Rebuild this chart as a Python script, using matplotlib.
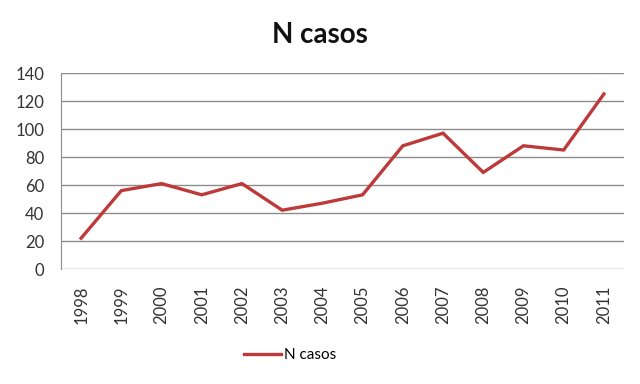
import matplotlib
matplotlib.use('Agg')
import matplotlib.pyplot as plt

years = ['1998', '1999', '2000', '2001', '2002', '2003', '2004',
         '2005', '2006', '2007', '2008', '2009', '2010', '2011']
casos = [22, 56, 61, 53, 61, 42, 47, 53, 88, 97, 69, 88, 85, 125]

plt.rcParams['font.family'] = ['Lato', 'DejaVu Sans']
RED = '#BE3A3A'
GRID = '#8C8C8C'

fig = plt.figure(figsize=(6.4, 3.84), dpi=100)
ax = fig.add_axes([61 / 640, 1 - 269 / 384, (624 - 61) / 640, (269 - 73) / 384])

x = list(range(len(years)))
ax.plot(x, casos, color=RED, lw=2.4, label='N casos', solid_joinstyle='miter')
ax.set_xlim(-0.5, len(years) - 0.5)
ax.set_ylim(0, 140)
ax.set_yticks(range(0, 141, 20))
ax.set_xticks(x)
ax.set_xticklabels(years, rotation=90, fontsize=12, color='#333333')
ax.tick_params(axis='y', labelsize=12, labelcolor='#333333', length=0, pad=12)
ax.tick_params(axis='x', length=0, pad=12)
ax.grid(axis='y', color=GRID, lw=1)
ax.set_axisbelow(True)
for s in ('top', 'right', 'bottom'):
    ax.spines[s].set_visible(False)
ax.spines['left'].set_color(GRID)

fig.text(0.5, 1 - 35 / 384, 'N casos', ha='center', va='center',
         fontsize=20, fontweight='bold', color='#111111')
fig.legend(loc='center', bbox_to_anchor=(290 / 640, 1 - 355 / 384), frameon=False,
           fontsize=11, handlelength=2.4, handletextpad=0.2)

fig.savefig('out.png', dpi=100)
